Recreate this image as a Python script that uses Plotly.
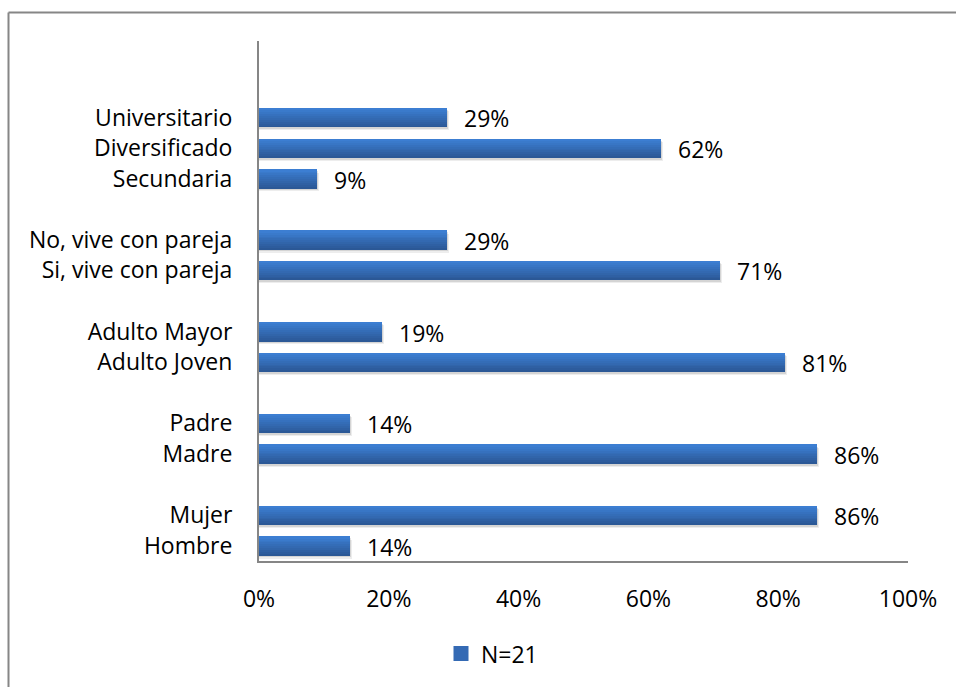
import plotly.graph_objects as go

# Survey profile, grouped by variable (bottom group first, bottom item first)
groups = [
    ["Hombre", "Mujer"],
    ["Madre", "Padre"],
    ["Adulto Joven", "Adulto Mayor"],
    ["Si, vive con pareja", "No, vive con pareja"],
    ["Secundaria", "Diversificado", "Universitario"],
]
group_values = [
    [14, 86],
    [86, 14],
    [81, 19],
    [71, 29],
    [9, 62, 29],
]
series_name = "N=21"
x_ticks = [0, 20, 40, 60, 80, 100]

# Flatten with a blank slot between groups
labels, values, positions = [], [], []
pos = 0
for g, vals in zip(groups, group_values):
    for lab, v in zip(g, vals):
        labels.append(lab)
        values.append(v)
        positions.append(pos)
        pos += 1
    pos += 1

FONT = "Open Sans"
FS = 23
BAR_W = 0.62
TOP_C = (60, 126, 210)
BOT_C = (43, 88, 150)

fig = go.Figure()

# soft drop shadow under each bar
for dx, dy, alpha in [(0.3, -0.11, 0.07), (0.15, -0.07, 0.10)]:
    fig.add_trace(go.Bar(
        y=positions, x=[v + dx for v in values], orientation="h",
        width=BAR_W, offset=-BAR_W / 2 + dy,
        marker=dict(color=f"rgba(0,0,0,{alpha})", line=dict(width=0)),
        showlegend=False, hoverinfo="skip",
    ))

# base bar
fig.add_trace(go.Bar(
    y=positions, x=values, orientation="h", name=series_name,
    width=BAR_W, offset=-BAR_W / 2,
    marker=dict(color="rgb(54,110,185)", line=dict(width=0)),
    showlegend=False,
))

# vertical gradient bands, dark at the bottom, light at the top
N = 10
for i in range(N):
    t = i / (N - 1)
    c = tuple(round(BOT_C[k] + (TOP_C[k] - BOT_C[k]) * t) for k in range(3))
    fig.add_trace(go.Bar(
        y=positions, x=values, orientation="h",
        width=BAR_W / N, offset=-BAR_W / 2 + i * BAR_W / N,
        marker=dict(color=f"rgb{c}", line=dict(width=0)),
        showlegend=False, hoverinfo="skip",
    ))

# legend entry for the series
fig.add_trace(go.Scatter(
    x=[None], y=[None], mode="markers", name=series_name,
    marker=dict(symbol="square", size=15, color="rgb(52,106,180)"),
))

# value labels
for p, v in zip(positions, values):
    fig.add_annotation(
        x=v, y=p, text=f"{v}%", showarrow=False, xanchor="left",
        xshift=15, yshift=-1, font=dict(family=FONT, size=FS, color="#000000"),
    )

# outer frame (left and top edges)
fig.add_shape(type="line", xref="paper", yref="paper",
              x0=(8.5 - 259) / 649, x1=(8.5 - 259) / 649,
              y0=(563 - 700) / 522, y1=(563 - 12.5) / 522,
              line=dict(color="#868686", width=2))
fig.add_shape(type="line", xref="paper", yref="paper",
              x0=(8.5 - 259) / 649, x1=(960 - 259) / 649,
              y0=(563 - 12.5) / 522, y1=(563 - 12.5) / 522,
              line=dict(color="#868686", width=2))

fig.update_layout(
    width=956, height=687,
    margin=dict(l=259, r=48, t=41, b=124),
    paper_bgcolor="white", plot_bgcolor="white",
    barmode="overlay", bargap=0,
    font=dict(family=FONT, size=FS, color="#000000"),
    showlegend=True,
    legend=dict(
        orientation="h", x=(492 - 259) / 649, xanchor="center",
        y=(563 - 656) / 522, yanchor="middle",
        font=dict(family=FONT, size=FS), itemwidth=30,
    ),
    xaxis=dict(
        range=[0, 100], tickvals=x_ticks,
        ticktext=[f"{t}%" for t in x_ticks],
        showgrid=False, zeroline=False,
        showline=True, linecolor="#868686", linewidth=2,
        ticks="", ticklabelstandoff=16,
    ),
    yaxis=dict(
        range=[-0.5, pos - 0.5 + 1], tickvals=positions, ticktext=labels,
        showgrid=False, zeroline=False,
        showline=True, linecolor="#868686", linewidth=2,
        ticks="", ticklabelstandoff=20,
    ),
)

fig.write_html("out.html")
